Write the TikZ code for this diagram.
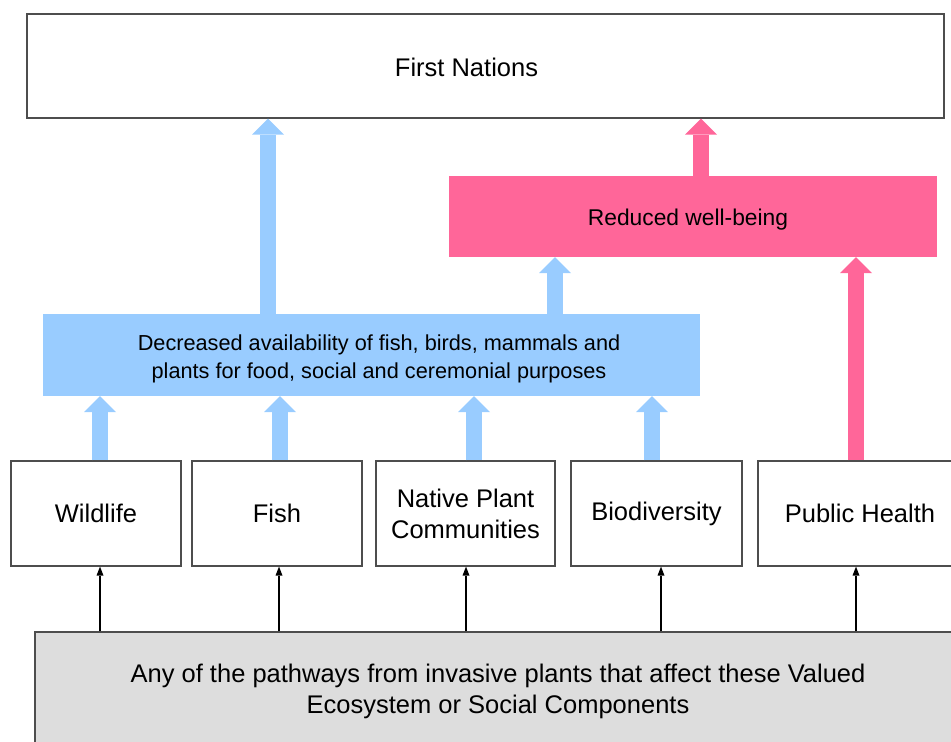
\documentclass[tikz,border=0pt]{standalone}
\usepackage{fontspec}
\setmainfont{Liberation Sans}
\usetikzlibrary{arrows.meta, positioning, calc}
\definecolor{cblue}{HTML}{99CCFF}
\definecolor{cpink}{HTML}{FF6699}
\definecolor{cgrey}{HTML}{DDDDDD}
\definecolor{cline}{HTML}{4D4D4D}
\tikzset{
  bigtxt/.style={font=\fontsize{25.5}{31}\selectfont},
  smalltxt/.style={font=\fontsize{22.8}{28}\selectfont},
  decotxt/.style={font=\fontsize{21.7}{28}\selectfont},
  box/.style={draw=cline, line width=1.2pt, fill=#1, align=center, inner sep=0pt, bigtxt},
  box/.default=white,
  band/.style={fill=#1, align=center, inner sep=0pt, smalltxt},
  fat/.style={draw=#1, line width=16pt, -{Triangle[length=16pt 0 0, width=32pt 0 0, line width=0pt]}},
  feed/.style={draw=black, line width=1.2pt, -{Triangle[length=9pt 0 0, width=7pt 0 0, line width=0pt]}},
}

\begin{document}
\begin{tikzpicture}[x=1pt, y=-1pt]
  \useasboundingbox (0,0) rectangle (951,742);
  \node[box, minimum width=917pt, minimum height=104pt,
        label={[bigtxt, xshift=-19pt, yshift=-1pt]center:First Nations}] (first) at (485.5,66) {};
  \node[band=cpink, minimum width=488pt, minimum height=81pt,
        label={[smalltxt, xshift=-5pt, yshift=-3pt]center:Reduced well-being}] (reduced) at (693,216.5) {};
  \node[band=cblue, minimum width=657pt, minimum height=82pt,
        label={[decotxt, align=center, xshift=7.5pt, yshift=-4pt]center:Decreased availability of fish, birds, mammals and\\plants for food, social and ceremonial purposes}] (dec) at (371.5,355) {};
  % value components
  \node[box, minimum width=170pt, minimum height=105pt] (wild) at (96,513.5) {Wildlife};
  \node[box, minimum width=170pt, minimum height=105pt] (fish) at (277,513.5) {Fish};
  \node[box, minimum width=179pt, minimum height=105pt] (native) at (465.5,513.5) {Native Plant\\Communities};
  \node[box, minimum width=171pt, minimum height=105pt] (bio) at (656.5,513.5) {Biodiversity};
  \node[box, minimum width=204pt, minimum height=105pt] (health) at (860,513.5) {Public Health};
  \node[box=cgrey, minimum width=926pt, minimum height=112pt,
        label={[bigtxt, align=center, yshift=-3pt]center:Any of the pathways from invasive plants that affect these Valued\\Ecosystem or Social Components}] (paths) at (498,688) {};
  % block arrows
  \coordinate (colA) at (268,0);
  \coordinate (colB) at (555,0);
  \coordinate (colC) at (701,0);
  \coordinate (colD) at (856,0);
  \draw[fat=cblue] (colA |- dec.north) -- (colA |- first.south);
  \draw[fat=cblue] (colB |- dec.north) -- (colB |- reduced.south);
  \draw[fat=cpink] (colC |- reduced.north) -- (colC |- first.south);
  \draw[fat=cpink] (colD |- health.north) -- (colD |- reduced.south);
  \foreach \n/\x in {wild/100, fish/280, native/474, bio/652} {
    \coordinate (up) at (\x,0);
    \draw[fat=cblue] (up |- \n.north) -- (up |- dec.south);
  }
  % thin arrows from the pathways
  \foreach \n/\x in {wild/100, fish/279, native/466, bio/661, health/856} {
    \coordinate (in) at (\x,0);
    \draw[feed] (in |- paths.north) -- (in |- \n.south);
  }
\end{tikzpicture}
\end{document}
